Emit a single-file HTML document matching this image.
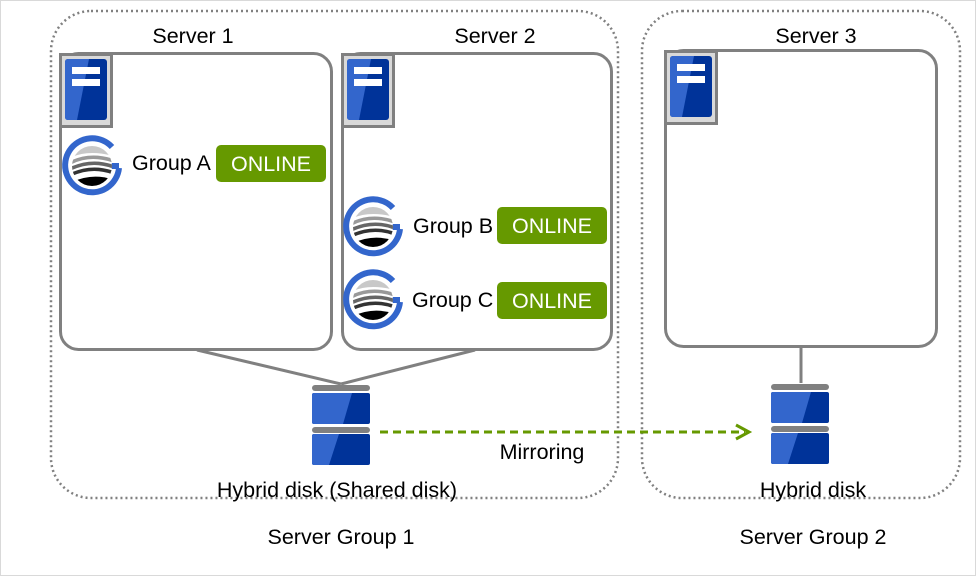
<!DOCTYPE html>
<html><head><meta charset="utf-8"><style>
html,body{margin:0;padding:0;background:#fff}
svg{display:block}
text{font-family:"Liberation Sans",sans-serif;fill:#000}
</style></head><body>
<svg width="976" height="576" viewBox="0 0 976 576" xmlns="http://www.w3.org/2000/svg">
<defs>
<g id="srv">
<rect x="1.5" y="1.5" width="51" height="72" fill="#d9d9d9" stroke="#808080" stroke-width="3"/>
<rect x="6" y="6" width="42" height="61" rx="3" fill="#003399"/>
<path d="M9 6 H30 L18 67 H9 Q6 67 6 64 V9 Q6 6 9 6Z" fill="#3366cc"/>
<rect x="13" y="14" width="28" height="7" fill="#fff"/>
<rect x="13" y="26" width="28" height="7" fill="#fff"/>
</g>
<g id="grp">
<path d="M20 -19 A27 27 0 1 0 27 2" fill="none" stroke="#3366cc" stroke-width="6"/>
<path d="M27 0 H15" stroke="#3366cc" stroke-width="6"/>
<clipPath id="cc"><circle cx="0" cy="0" r="20"/></clipPath>
<g clip-path="url(#cc)">
<rect x="-22" y="-22" width="44" height="44" fill="#fff"/>
<path d="M-22 -8 Q-5 -17 22 -10 V-22 H-22Z" fill="#c8c8c8"/>
<path d="M-22 -1 Q-2 -12 22 -3 V-7 Q-2 -15 -22 -5Z" fill="#999"/>
<path d="M-22 5 Q0 -6 22 3 V-1 Q0 -9 -22 1Z" fill="#666"/>
<path d="M-22 11 Q0 0 22 9 V5 Q0 -3 -22 7Z" fill="#333"/>
<path d="M-22 22 V17 Q0 6 22 14 V22Z" fill="#000"/>
</g>
</g>
<g id="disk">
<rect x="0" y="0" width="58" height="6" rx="3" fill="#808080"/>
<rect x="0" y="8" width="58" height="31" rx="2" fill="#003399"/>
<path d="M2 8 H40 L31 39 H2 Q0 39 0 37 V10 Q0 8 2 8Z" fill="#3366cc"/>
<rect x="0" y="42" width="58" height="6" rx="3" fill="#808080"/>
<rect x="0" y="49" width="58" height="31" rx="2" fill="#003399"/>
<path d="M2 49 H27 L17 80 H2 Q0 80 0 78 V51 Q0 49 2 49Z" fill="#3366cc"/>
</g>
</defs>
<rect x="0.5" y="0.5" width="975" height="575" fill="#fff" stroke="#d9d9d9"/>
<rect x="51" y="11" width="567" height="487" rx="40" fill="none" stroke="#808080" stroke-width="2.5" stroke-dasharray="2 3"/>
<rect x="642" y="11" width="318" height="487" rx="40" fill="none" stroke="#808080" stroke-width="2.5" stroke-dasharray="2 3"/>
<line x1="197" y1="350" x2="341" y2="384" stroke="#808080" stroke-width="3"/>
<line x1="475" y1="350" x2="341" y2="384" stroke="#808080" stroke-width="3"/>
<line x1="801" y1="347" x2="801" y2="383" stroke="#808080" stroke-width="3"/>
<rect x="60.5" y="53.5" width="271" height="296" rx="18" fill="#fff" stroke="#808080" stroke-width="3"/>
<rect x="342.5" y="53.5" width="269" height="296" rx="18" fill="#fff" stroke="#808080" stroke-width="3"/>
<rect x="665.5" y="50.5" width="271" height="296" rx="18" fill="#fff" stroke="#808080" stroke-width="3"/>
<use href="#srv" x="59" y="53"/>
<use href="#srv" x="341" y="53"/>
<use href="#srv" x="664" y="50"/>
<g font-size="21.5">
<text x="193" y="43" text-anchor="middle">Server 1</text>
<text x="495" y="43" text-anchor="middle">Server 2</text>
<text x="816" y="43" text-anchor="middle">Server 3</text>
<text x="132" y="170">Group A</text>
<text x="413" y="233">Group B</text>
<text x="412" y="307">Group C</text>
<text x="271" y="171" text-anchor="middle" style="fill:#fff">ONLINE</text>
<text x="552" y="233" text-anchor="middle" style="fill:#fff">ONLINE</text>
<text x="552" y="308" text-anchor="middle" style="fill:#fff">ONLINE</text>
<text x="542" y="459" text-anchor="middle">Mirroring</text>
<text x="337" y="497" text-anchor="middle">Hybrid disk (Shared disk)</text>
<text x="813" y="497" text-anchor="middle">Hybrid disk</text>
<text x="341" y="544" text-anchor="middle">Server Group 1</text>
<text x="813" y="544" text-anchor="middle">Server Group 2</text>
</g>
<use href="#grp" x="92" y="166"/>
<use href="#grp" x="373" y="227"/>
<use href="#grp" x="373" y="300"/>
<rect x="216" y="145" width="110" height="37" rx="5" fill="#669900"/>
<rect x="497" y="207" width="110" height="37" rx="5" fill="#669900"/>
<rect x="497" y="282" width="110" height="37" rx="5" fill="#669900"/>
<g font-size="21.5">
<text x="271" y="171" text-anchor="middle" style="fill:#fff">ONLINE</text>
<text x="552" y="233" text-anchor="middle" style="fill:#fff">ONLINE</text>
<text x="552" y="308" text-anchor="middle" style="fill:#fff">ONLINE</text>
</g>
<use href="#disk" x="312" y="385"/>
<use href="#disk" x="771" y="384"/>
<line x1="380" y1="432" x2="745" y2="432" stroke="#669900" stroke-width="3" stroke-dasharray="8 5"/>
<path d="M736 425 L749 432 L736 439" fill="none" stroke="#669900" stroke-width="3"/>
</svg>
</body></html>
